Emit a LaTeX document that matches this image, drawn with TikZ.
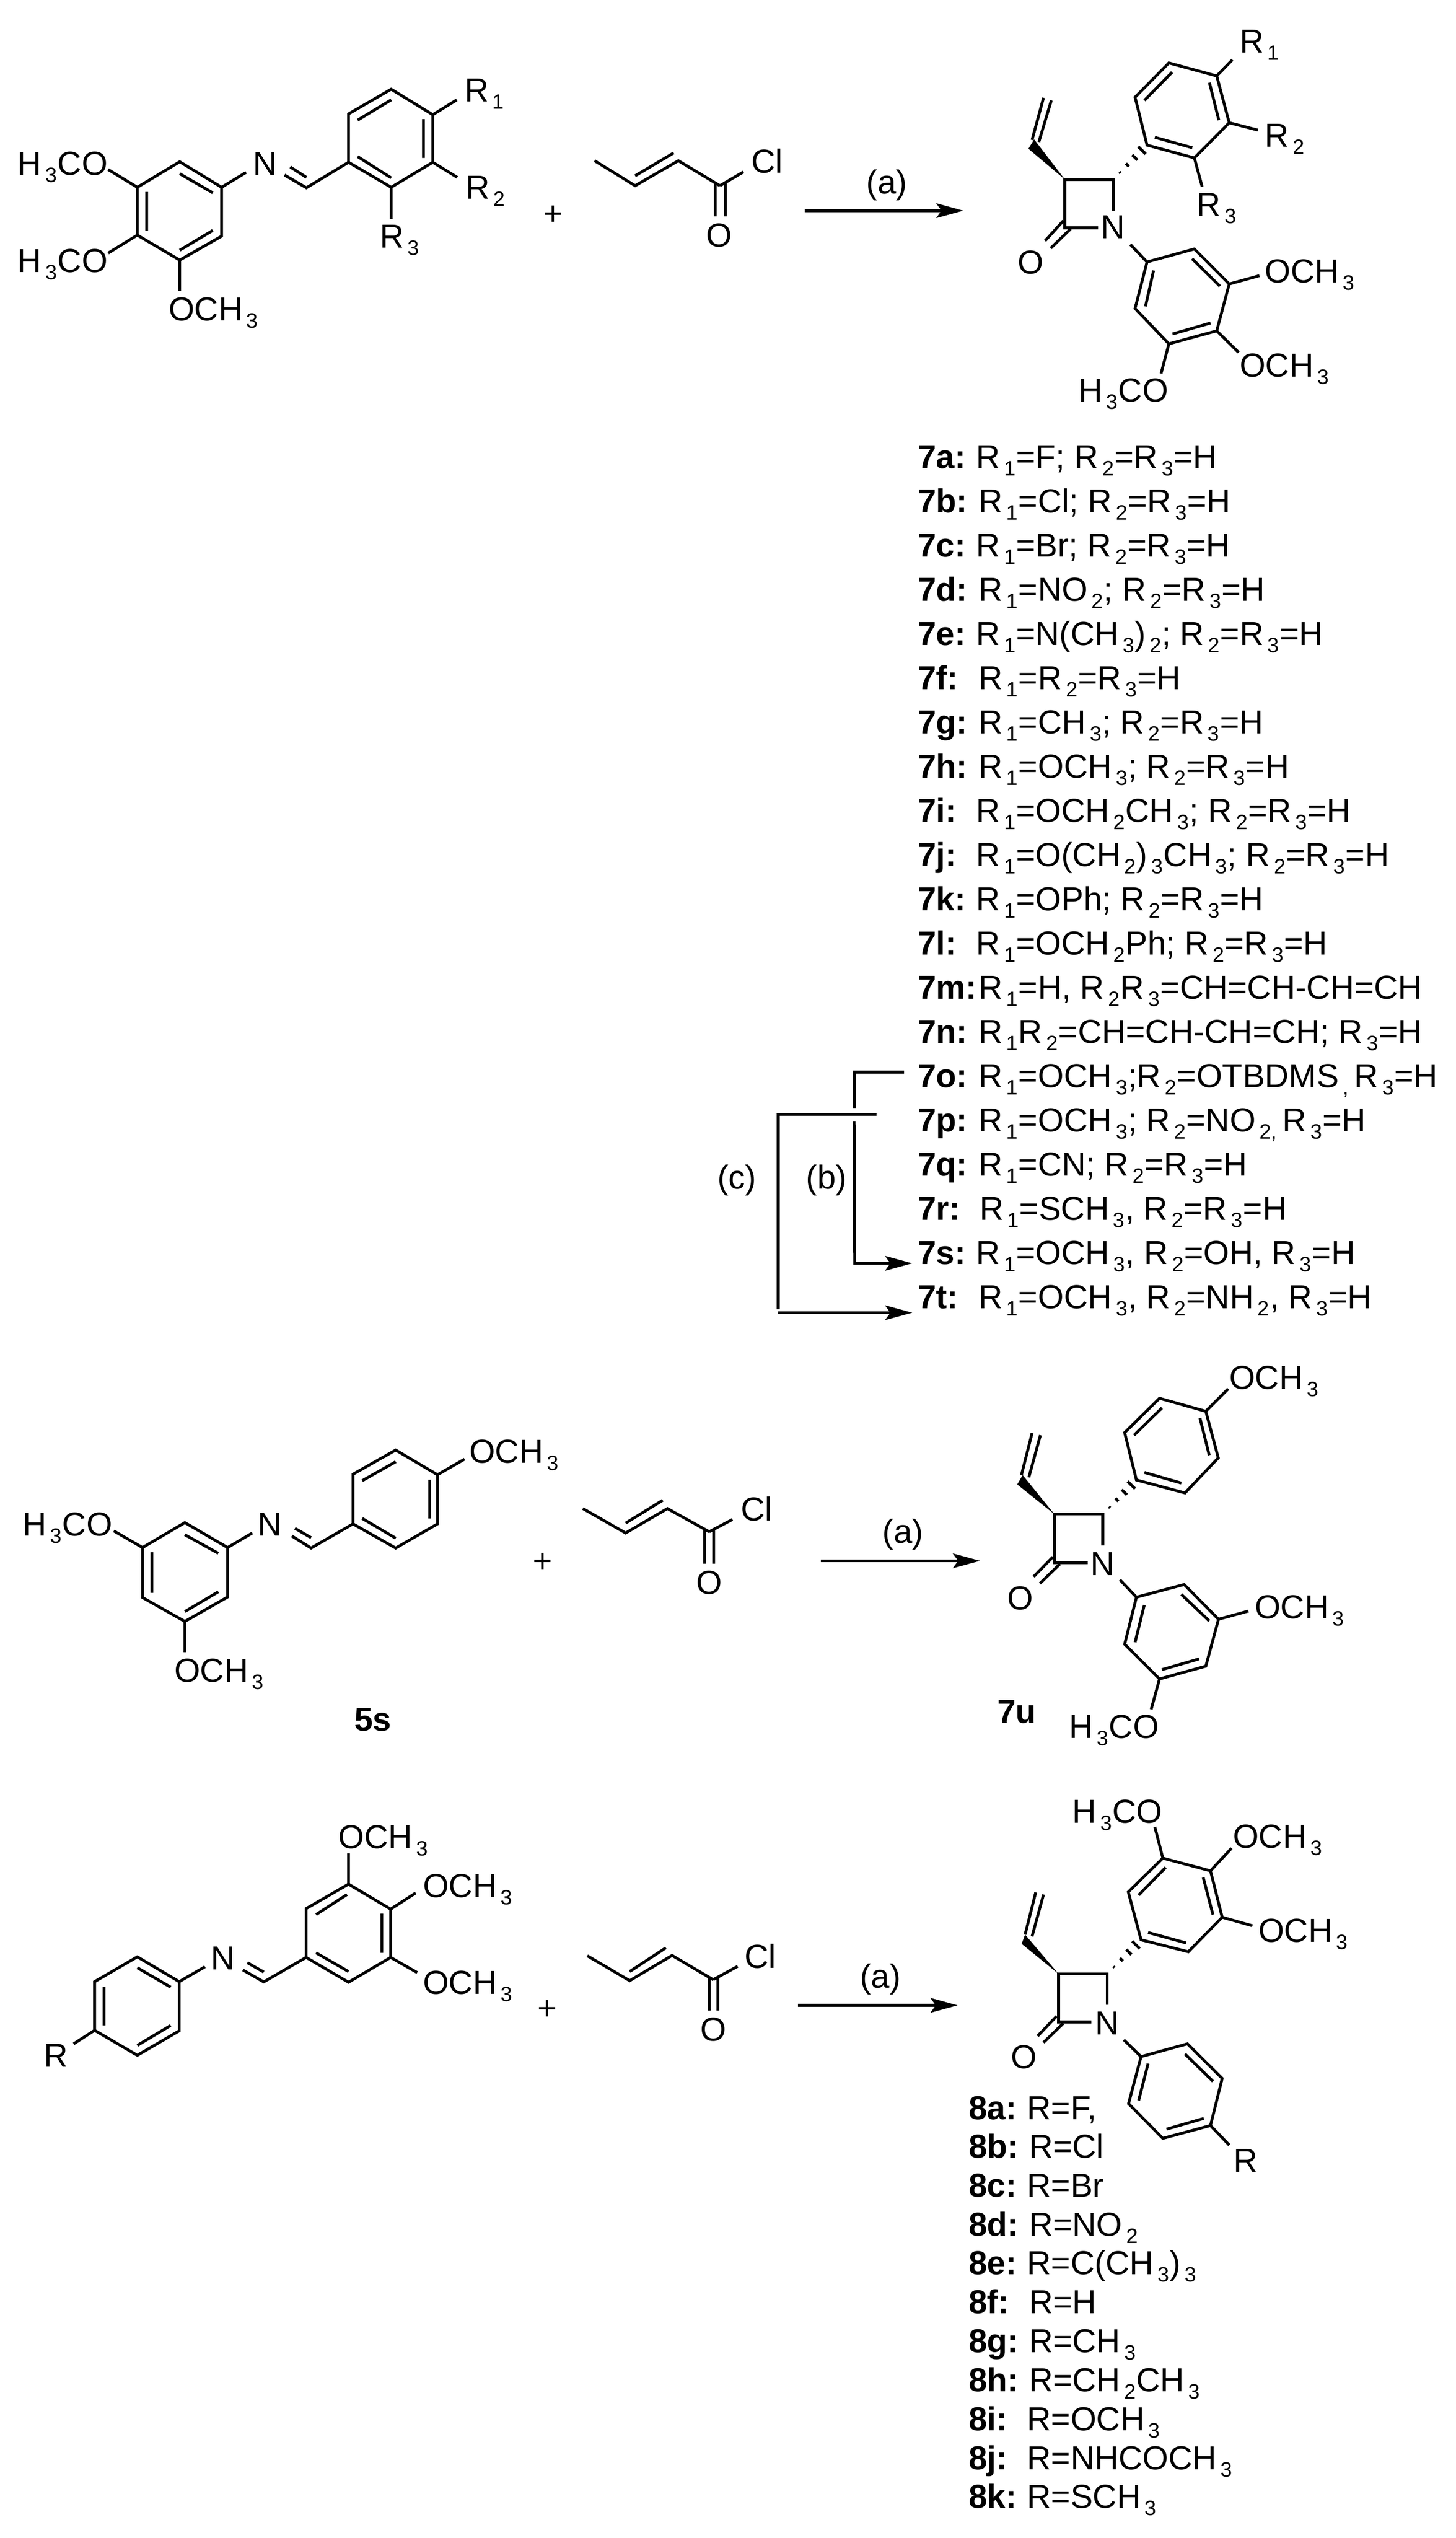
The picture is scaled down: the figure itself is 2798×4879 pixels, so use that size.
\documentclass[tikz,border=0pt]{standalone}
\usepackage{fontspec}
\setmainfont{Liberation Sans}
\usetikzlibrary{arrows.meta}
\newcount\labn
\newcommand{\sbs}[1]{\kern1.9pt\raisebox{-3.5pt}{\fontsize{10}{10}\selectfont #1}\kern0.2pt}
\newcommand{\lab}[3]{\global\advance\labn by 1 \node[txt,anchor=base west] (L\the\labn) at (#1,#2) {#3};}
\newcommand{\clab}[3]{\global\advance\labn by 1 \node[txt,anchor=base] (L\the\labn) at (#1,#2) {#3};}
\newcommand{\plus}[2]{\global\advance\labn by 1 \node[txt,anchor=center] (L\the\labn) at (#1,#2) {+};}
\newcommand{\blab}[3]{\global\advance\labn by 1 \node[txt,anchor=base west,font=\fontsize{16}{16}\selectfont\bfseries] (L\the\labn) at (#1,#2) {#3};}
\newcommand{\row}[4]{\blab{1764}{#1}{#3}\lab{#2}{#1}{#4}}
\newcommand{\rowb}[4]{\blab{1862}{#1}{#3}\lab{#2}{#1}{#4}}
% hash bond: from (ax,ay) to (bx,by)
\newcommand{\hash}[4]{%
  \foreach \t/\w in {0.2/1.5,0.42/4,0.64/7,0.85/10}{
    \pgfmathsetmacro{\dx}{#3-#1}\pgfmathsetmacro{\dy}{#4-#2}
    \pgfmathsetmacro{\ln}{sqrt(\dx*\dx+\dy*\dy)}
    \pgfmathsetmacro{\cx}{#1+\t*\dx}\pgfmathsetmacro{\cy}{#2+\t*\dy}
    \pgfmathsetmacro{\nx}{-\dy/\ln*\w}\pgfmathsetmacro{\ny}{\dx/\ln*\w}
    \draw[bond] (\cx+\nx,\cy+\ny) -- (\cx-\nx,\cy-\ny);
  }}
\tikzset{
  bond/.style={line width=1.35pt,line join=miter,line cap=butt,black},
  txt/.style={inner sep=0pt,outer sep=0pt,font=\fontsize{16}{16}\selectfont,text=black},
  rx/.style={line width=1.35pt,-{Stealth[length=13pt,width=7pt,inset=2.5pt]},black}
}
\begin{document}
\begin{tikzpicture}[x=0.25pt,y=-0.25pt]
\useasboundingbox (0,0) rectangle (2798,4879);
\fill[white] (0,0) rectangle (2798,4879);
%%%%%% Scheme 1 reactant
\draw[bond] (345.5,311)--(426,360)--(426,454)--(345.5,500)--(264,452)--(264,360)--cycle;
\draw[bond] (345.5,334)--(409,370.6) (282,369)--(282,443.7) (345.5,481)--(409,443);
\draw[bond] (208,326)--(264,360) (208,486.5)--(264,452) (345.5,500)--(345.5,559);
\draw[bond] (426,360)--(473,331.5) (547,336.5)--(589,361)--(670,312) (558,321)--(589,341);
\draw[bond] (670,312)--(670,219)--(752,171.5)--(832,220.5)--(832,312)--(752,360)--cycle;
\draw[bond] (687.5,231)--(752,192) (814,229)--(814,303.6) (687.5,301)--(752,342);
\draw[bond] (832,220.5)--(878,192) (832,312)--(879,341) (752,360)--(752,421);
\lab{34}{336.5}{H\sbs{3}CO}
\lab{34}{523.6}{H\sbs{3}CO}
\lab{324}{616.6}{OCH\sbs{3}}
\clab{510}{336.5}{N}
\lab{893}{195.7}{R\sbs{1}}
\lab{895}{383}{R\sbs{2}}
\lab{730}{477}{R\sbs{3}}
\plus{1063}{414}
\draw[bond] (1143,309)--(1221,357)--(1304,309)--(1384,357) (1221,338)--(1295,294);
\draw[bond] (1384,357)--(1429,330.6) (1375,352)--(1375,416) (1394.5,352)--(1394.5,416);
\lab{1444.6}{332.6}{Cl}
\clab{1382}{475}{O}
\draw[rx] (1547,405)--(1852,405);
\clab{1705}{372.4}{(a)}
%%%%%% Scheme 1 product
\draw[bond] (2140,404.6)--(2140,345)--(2047,345)--(2047,438)--(2110.6,438);
\draw[bond] (2044,424.5)--(2009,463) (2058,440)--(2020,477);
\clab{2140}{459}{N}
\clab{1981}{527}{O}
\fill (2047,345)--(1977,286)--(1988,268)--cycle;
\draw[bond] (1984,269)--(2006,188) (1997,273)--(2021,193);
\hash{2140}{345}{2205}{279}
\draw[bond] (2205,279)--(2182,187)--(2247,121)--(2339,146)--(2363,236)--(2296,303.6)--cycle;
\draw[bond] (2200,193)--(2253,139) (2325,159)--(2343,231) (2220,264)--(2292,284);
\draw[bond] (2339,146)--(2369,115) (2363,236)--(2418,250) (2296,303.6)--(2311,359);
\lab{2383}{102}{R\sbs{1}}
\lab{2431.6}{283}{R\sbs{2}}
\lab{2300.5}{416}{R\sbs{3}}
\draw[bond] (2173,470)--(2205,503.6);
\draw[bond] (2205,503.6)--(2296,478.6)--(2363,546)--(2339,636)--(2247,661)--(2182,593)--cycle;
\draw[bond] (2291.6,497.4)--(2345,550) (2217.6,520)--(2202,589) (2254,642)--(2327,621);
\draw[bond] (2363,546)--(2421,530) (2339,636)--(2381,677.5) (2247,661)--(2232,718);
\lab{2431.6}{544}{OCH\sbs{3}}
\lab{2383}{724.5}{OCH\sbs{3}}
\lab{2073}{773}{H\sbs{3}CO}
%%%%%% list 7
\row{900.3}{1876.5}{7a:}{R\sbs{1}=F; R\sbs{2}=R\sbs{3}=H}
\row{985.3}{1881}{7b:}{R\sbs{1}=Cl; R\sbs{2}=R\sbs{3}=H}
\row{1070.3}{1876.5}{7c:}{R\sbs{1}=Br; R\sbs{2}=R\sbs{3}=H}
\row{1155.3}{1881}{7d:}{R\sbs{1}=NO\sbs{2}; R\sbs{2}=R\sbs{3}=H}
\row{1240.3}{1876.5}{7e:}{R\sbs{1}=N(CH\sbs{3})\sbs{2}; R\sbs{2}=R\sbs{3}=H}
\row{1325.3}{1881}{7f:}{R\sbs{1}=R\sbs{2}=R\sbs{3}=H}
\row{1410.3}{1881}{7g:}{R\sbs{1}=CH\sbs{3}; R\sbs{2}=R\sbs{3}=H}
\row{1495.3}{1881}{7h:}{R\sbs{1}=OCH\sbs{3}; R\sbs{2}=R\sbs{3}=H}
\row{1580.3}{1876.5}{7i:}{R\sbs{1}=OCH\sbs{2}CH\sbs{3}; R\sbs{2}=R\sbs{3}=H}
\row{1665.3}{1876.5}{7j:}{R\sbs{1}=O(CH\sbs{2})\sbs{3}CH\sbs{3}; R\sbs{2}=R\sbs{3}=H}
\row{1750.3}{1876.5}{7k:}{R\sbs{1}=OPh; R\sbs{2}=R\sbs{3}=H}
\row{1835.3}{1876.5}{7l:}{R\sbs{1}=OCH\sbs{2}Ph; R\sbs{2}=R\sbs{3}=H}
\row{1920.3}{1881}{7m:}{R\sbs{1}=H, R\sbs{2}R\sbs{3}=CH=CH-CH=CH}
\row{2005.3}{1881}{7n:}{R\sbs{1}R\sbs{2}=CH=CH-CH=CH; R\sbs{3}=H}
\row{2090.3}{1881}{7o:}{R\sbs{1}=OCH\sbs{3};R\sbs{2}=OTBDMS\sbs{,}\kern2.5pt R\sbs{3}=H}
\row{2175.3}{1881}{7p:}{R\sbs{1}=OCH\sbs{3}; R\sbs{2}=NO\sbs{2,}\kern2.5pt R\sbs{3}=H}
\row{2260.3}{1881}{7q:}{R\sbs{1}=CN; R\sbs{2}=R\sbs{3}=H}
\row{2345.3}{1883}{7r:}{R\sbs{1}=SCH\sbs{3}, R\sbs{2}=R\sbs{3}=H}
\row{2430.3}{1876.5}{7s:}{R\sbs{1}=OCH\sbs{3}, R\sbs{2}=OH, R\sbs{3}=H}
\row{2515.3}{1881}{7t:}{R\sbs{1}=OCH\sbs{3}, R\sbs{2}=NH\sbs{2}, R\sbs{3}=H}
%%%%%% brackets
\draw[bond] (1737.5,2061)--(1642,2061)--(1642,2130);
\draw[rx] (1642,2155)--(1643,2428.6)--(1753.7,2428.6);
\draw[bond] (1685,2142.7)--(1496,2142.7)--(1496,2516.6);
\draw[rx] (1496,2523.5)--(1753.7,2523.5);
\clab{1416.5}{2285}{(c)}
\clab{1589}{2285}{(b)}
%%%%%% Scheme 2 reactant
\draw[bond] (355.4,2927)--(437.5,2975)--(437.5,3070)--(355.4,3117)--(274,3071)--(274,2975)--cycle;
\draw[bond] (355.4,2950.4)--(419.6,2986) (292,2984)--(292,3062) (355.4,3098)--(419.6,3060);
\draw[bond] (218.8,2943)--(274,2975) (355.4,3117)--(355.4,3176);
\lab{43}{2952.7}{H\sbs{3}CO}
\lab{335}{3233}{OCH\sbs{3}}
\clab{519}{2952.7}{N}
\draw[bond] (437.5,2975)--(485,2947) (561,2952.7)--(598,2976)--(678.6,2929.5) (567,2938)--(598,2956);
\draw[bond] (678.6,2929.5)--(678.6,2834)--(760.7,2787.5)--(841,2835)--(841,2929.5)--(760.7,2976)--cycle;
\draw[bond] (696.4,2846.4)--(760.7,2810) (826,2844.6)--(826,2919) (696.4,2919)--(760.7,2957);
\draw[bond] (841,2835)--(893,2805);
\lab{902}{2812}{OCH\sbs{3}}
\plus{1043}{3004}
\draw[bond] (1120.5,2900)--(1202.7,2947)--(1283,2900)--(1363.4,2944.6) (1202.7,2928)--(1274,2884);
\draw[bond] (1363.4,2944.6)--(1408,2921) (1354.5,2941)--(1354.5,3006) (1372,2941)--(1372,3006);
\lab{1424}{2923.5}{Cl}
\clab{1363}{3064}{O}
\blab{681}{3327}{5s}
\draw[rx] (1578,3000.5)--(1884,3000.5);
\clab{1736}{2966}{(a)}
%%%%%% Scheme 2 product
\draw[bond] (2120,2971)--(2120,2910.7)--(2026.8,2910.7)--(2026.8,3004)--(2091,3004);
\draw[bond] (2024,2993)--(1987,3031) (2037.5,3006.6)--(1999,3044);
\clab{2120}{3028}{N}
\clab{1961}{3094}{O}
\fill (2026.8,2910.7)--(1955.5,2853.6)--(1966,2835.7)--cycle;
\draw[bond] (1963.5,2835.7)--(1984,2755) (1977.8,2840)--(2000,2759);
\hash{2120}{2910.7}{2184.6}{2845}
\draw[bond] (2184.6,2845)--(2162,2754)--(2229,2688)--(2318,2713)--(2342,2802.6)--(2278,2870)--cycle;
\draw[bond] (2180,2759)--(2233.6,2706.6) (2306.7,2726)--(2324.6,2797.4) (2200,2830.6)--(2271,2851);
\draw[bond] (2318,2713)--(2361,2670);
\lab{2363}{2670}{OCH\sbs{3}}
\draw[bond] (2153,3037)--(2184.6,3070.4);
\draw[bond] (2184.6,3070.4)--(2276.4,3046)--(2342.4,3112.8)--(2318,3203)--(2229,3227.6)--(2162,3160.7)--cycle;
\draw[bond] (2271,3065)--(2324.6,3116) (2199.7,3085.7)--(2182,3157) (2233.6,3209.7)--(2305,3189);
\draw[bond] (2342.4,3112.8)--(2400,3097) (2229,3227.6)--(2213,3286);
\lab{2412}{3111}{OCH\sbs{3}}
\lab{2055}{3341}{H\sbs{3}CO}
\blab{1917}{3312.7}{7u}
%%%%%% Scheme 3 reactant
\draw[bond] (264,3761.7)--(344.5,3809.5)--(344.5,3904)--(264,3951)--(181.8,3903)--(181.8,3809.5)--cycle;
\draw[bond] (264,3782.7)--(328,3820) (200,3819)--(200,3893.7) (264,3932)--(328,3893.7);
\draw[bond] (181.8,3903)--(141.6,3929);
\lab{84}{3973}{R}
\clab{429}{3786.5}{N}
\draw[bond] (344.5,3809.5)--(394,3780.8) (467,3787)--(507,3810)--(588.5,3762.8) (475.6,3773)--(507,3791);
\draw[bond] (588.5,3762.8)--(588.5,3669)--(670,3622)--(751,3670)--(751,3762.8)--(670,3810.6)--cycle;
\draw[bond] (607.6,3680.5)--(667,3642) (734,3678.6)--(734,3754) (607.6,3754)--(670,3790);
\draw[bond] (670,3622)--(670,3562.6) (751,3670)--(799,3639) (751,3762.8)--(802,3792);
\lab{650.7}{3553}{OCH\sbs{3}}
\lab{813}{3647}{OCH\sbs{3}}
\lab{813}{3833.6}{OCH\sbs{3}}
\plus{1052.6}{3864}
\draw[bond] (1129,3759.7)--(1210.5,3807.6)--(1292,3759)--(1371,3805.7) (1210.5,3790)--(1280,3744.4);
\draw[bond] (1371,3805.7)--(1418,3780) (1363.6,3801)--(1363.6,3865) (1380,3801)--(1380,3865);
\lab{1431}{3783.7}{Cl}
\clab{1371}{3923.5}{O}
\draw[rx] (1534,3855)--(1841,3855);
\clab{1692.4}{3821}{(a)}
%%%%%% Scheme 3 product
\draw[bond] (2128.4,3854)--(2128.4,3794.4)--(2034.8,3794.4)--(2034.8,3887)--(2098,3887);
\draw[bond] (2031,3876)--(1994.7,3914) (2043.7,3889.8)--(2006,3926.5);
\clab{2128.4}{3911}{N}
\clab{1968}{3976.5}{O}
\fill (2034.8,3794.4)--(1964,3736.7)--(1970.6,3719)--cycle;
\draw[bond] (1970.6,3719)--(1991,3638) (1984,3722.4)--(2006,3642);
\hash{2128.4}{3794.4}{2193.5}{3729}
\draw[bond] (2193.5,3729)--(2169,3637)--(2235.4,3572)--(2327,3596.4)--(2349.5,3685.7)--(2284.4,3752)--cycle;
\draw[bond] (2189,3643)--(2240.8,3590) (2313,3609)--(2331.7,3680.6) (2207,3715)--(2280,3735);
\draw[bond] (2235.4,3572)--(2220,3512) (2327,3596.4)--(2367.4,3553) (2349.5,3685.7)--(2407.5,3702);
\lab{2061.6}{3504.6}{H\sbs{3}CO}
\lab{2370}{3552}{OCH\sbs{3}}
\lab{2419}{3733}{OCH\sbs{3}}
\draw[bond] (2160.5,3921.4)--(2193.5,3953.6);
\draw[bond] (2193.5,3953.6)--(2282.7,3929)--(2349.5,3995.4)--(2327,4086)--(2235.4,4110.7)--(2169.5,4044)--cycle;
\draw[bond] (2278,3948.5)--(2331.7,4001) (2207,3967)--(2189,4037.8) (2242.5,4093)--(2314,4072.4);
\draw[bond] (2327,4086)--(2363,4123.5);
\lab{2371}{4175}{R}
%%%%%% list 8
\rowb{4074.6}{1974.5}{8a:}{R=F,}
\rowb{4148.5}{1978}{8b:}{R=Cl}
\rowb{4223.4}{1974.5}{8c:}{R=Br}
\rowb{4298}{1978}{8d:}{R=NO\sbs{2}}
\rowb{4372.8}{1974.5}{8e:}{R=C(CH\sbs{3})\sbs{3}}
\rowb{4447.5}{1978}{8f:}{R=H}
\rowb{4522}{1978}{8g:}{R=CH\sbs{3}}
\rowb{4597}{1978}{8h:}{R=CH\sbs{2}CH\sbs{3}}
\rowb{4672}{1974.5}{8i:}{R=OCH\sbs{3}}
\rowb{4747}{1974.5}{8j:}{R=NHCOCH\sbs{3}}
\rowb{4821.7}{1974.5}{8k:}{R=SCH\sbs{3}}
\end{tikzpicture}
\end{document}
